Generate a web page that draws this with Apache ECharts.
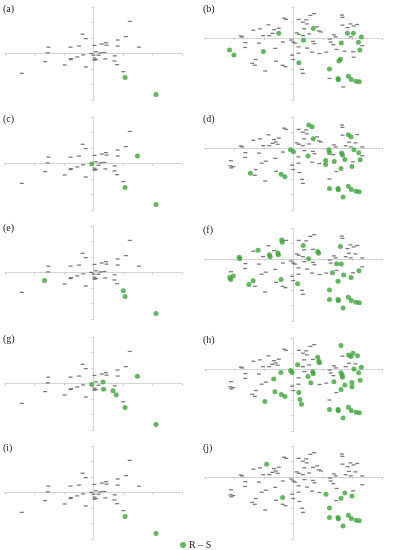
<!DOCTYPE html>
<html>
<head>
<meta charset="utf-8">
<script src="https://cdn.jsdelivr.net/npm/echarts@6/dist/echarts.min.js"></script>
<style>
html, body { margin: 0; padding: 0; background: #fff; }
#box { width: 394px; height: 550px; }
</style>
</head>
<body>
<div id="box"></div>
<script>
// grey marks shared by the left column (a, c, e, g, i)
var leftBase = [
    [1.23, 2.07], [-0.37, 1.24], [-0.26, 0.96], [1.10, 1.09], [0.82, 0.87], [-1.53, 0.41], [-0.78, 0.41],
    [-0.49, 0.48], [0.03, 0.52], [0.28, 0.61], [0.42, 0.70], [0.44, 0.54], [0.82, 0.48], [1.54, 0.41],
    [-1.55, 0.04], [0.08, 0.11], [-0.08, 0], [0.24, 0.04], [0.37, 0.07], [-0.35, -0.09], [0, -0.11],
    [0.17, -0.11], [-0.55, -0.22], [-0.76, -0.33], [-0.78, -0.39], [0.03, -0.30], [0.08, -0.39],
    [0.03, -0.43], [0.40, -0.35], [0.72, -0.15], [0.71, -0.48], [-1.64, -0.52], [-0.98, -0.74],
    [0.80, -0.72], [-0.26, -0.87], [1.01, -1.17], [-2.43, -1.28]
];

// grey marks shared by the right column (b, d, f, h, j)
var rightBase = [
    [0.70, 1.57], [0.57, 1.46], [1.64, 1.48], [1.66, 1.33], [-0.32, 1.28], [-0.25, 1.20], [0.18, 1.20],
    [0.43, 1.17], [0.32, 1.02], [0.45, 0.91], [-0.85, 0.85], [1.66, 0.83], [1.93, 0.91], [2.04, 0.78],
    [2.16, 0.87], [-1.14, 0.59], [-1.36, 0.50], [-0.50, 0.63], [-0.66, 0.54], [-1.79, 0.13], [-1.74, 0.07],
    [-0.71, 0.30], [-0.60, 0.39], [-0.54, 0.24], [0.36, 0.59], [0.86, 0.46], [0.93, 0.39], [0.80, 0.72],
    [0.66, 0.62], [1.83, 0.67], [1.88, 0.37], [2.10, 0.33], [0.11, 0.33], [0.18, 0.24], [-0.82, 0.15],
    [-1.03, 0.15], [0.53, 0.26], [0.32, 0.15], [1.37, 0.20], [1.43, 0.07], [1.77, 0.15], [1.94, 0.07],
    [2.33, 0.07], [-1.63, -0.30], [-1.17, -0.33], [-0.36, -0.26], [-0.08, -0.13], [-0.01, -0.26],
    [0.05, -0.33], [0.37, -0.17], [0.66, -0.22], [0.71, -0.37], [1.23, -0.07], [1.26, -0.26],
    [1.35, -0.43], [-1.64, -0.61], [-0.62, -0.67], [0.17, -0.57], [0.46, -0.65], [1.46, -0.74],
    [1.73, -0.85], [2.33, -0.50], [2.02, -0.89], [-2.12, -0.82], [-2.14, -1.15], [-2.11, -1.28],
    [-2.04, -1.20], [-1.08, -0.98], [-0.94, -0.85], [-0.05, -1.11], [0.17, -0.98], [0.63, -0.91],
    [0.88, -1.00], [1.11, -0.91], [2.04, -1.24], [-1.28, -1.39], [-1.40, -1.63], [-1.31, -1.76],
    [-0.59, -1.50], [-0.37, -1.76], [-0.27, -1.85], [-0.01, -1.39], [0.20, -1.58], [1.45, -1.52],
    [0.29, -2.02], [0.32, -2.28], [-0.96, -2.13], [1.22, -2.00], [1.22, -2.61], [1.68, -3.16]
];

// green points (R - S) for each panel
var greenA = [[1.07, -1.55], [2.12, -2.65]];
var greenC = [[1.49, 0.48], [-0.06, -0.04], [1.07, -1.55], [2.12, -2.65]];
var greenE = [[-1.66, -0.52], [1.01, -1.17], [1.07, -1.55], [2.12, -2.65]];
var greenG = [[-0.06, -0.06], [0.32, 0.09], [0.34, -0.37], [0.66, -0.46], [0.77, -0.72], [1.49, 0.46],
    [1.07, -1.55], [2.12, -2.65]];
var greenI = [[1.07, -1.55], [2.12, -2.65]];

var greenB = [[-2.17, -0.78], [-2.02, -1.09], [-1.02, -0.87], [-0.50, 0.30], [0.67, 0.61], [0.34, -0.15],
    [0.18, -1.59], [1.83, 0.30], [2.03, 0.30], [2.30, 0.07], [2.20, -0.28], [2.25, -0.78], [1.62, -0.33],
    [1.59, -1.37], [1.54, -1.48], [1.22, -2.00], [1.51, -2.61], [1.52, -2.70], [1.86, -2.47],
    [1.96, -2.67], [2.12, -2.79], [2.23, -2.83]];
var greenD = [[0.52, 1.48], [0.63, 1.37], [0.67, 0.59], [1.86, 0.85], [1.95, 0.72], [2.05, -0.11],
    [2.21, -0.30], [2.26, -0.76], [1.20, -0.11], [1.22, -0.30], [1.63, -0.33], [1.66, -0.45],
    [-0.10, -0.11], [0.00, -0.24], [0.49, -0.52], [1.09, -0.80], [1.09, -1.07], [1.38, -0.87],
    [1.74, -0.74], [1.61, -1.33], [1.98, -1.20], [-1.46, -1.63], [-0.42, -1.70], [-0.29, -1.85],
    [1.22, -2.61], [1.51, -2.61], [1.52, -2.70], [1.86, -2.47], [1.96, -2.67], [2.12, -2.79],
    [2.23, -2.83], [1.68, -3.16]];
var greenF = [[-1.84, 0.12], [-1.82, 0.02], [-1.20, 0.57], [-0.82, 0.28], [-0.79, 0.15], [-0.53, 0.39],
    [-0.51, 0.28], [-0.40, 1.22], [-0.38, 1.08], [0.33, 0.87], [0.82, 0.48], [0.85, 0.37], [0.51, 0.02],
    [1.59, 0.80], [1.46, -0.30], [1.62, -0.33], [1.32, -0.89], [1.70, -1.04], [1.51, -1.43],
    [2.22, -0.76], [1.95, -1.20], [-2.16, -1.20], [-2.13, -1.33], [-2.04, -1.09], [-1.51, -1.65],
    [-1.37, -1.41], [-0.42, -1.33], [0.14, -1.59], [1.22, -2.00], [1.22, -2.61], [1.51, -2.61],
    [1.52, -2.70], [1.86, -2.47], [1.96, -2.67], [2.12, -2.79], [2.23, -2.83], [1.68, -3.16]];
var greenH = [[1.61, 1.52], [1.87, 0.91], [1.95, 0.80], [2.02, 1.02], [2.17, 0.85], [0.82, 0.76],
    [0.86, 0.50], [0.88, 0.40], [0.14, 0.28], [0.65, -0.17], [0.67, -0.30], [0.49, -0.48], [0.59, -0.89],
    [-0.10, -0.09], [-0.05, -0.22], [-0.43, -0.22], [-0.67, -0.65], [-0.63, -1.46], [-0.41, -1.65],
    [-0.29, -1.78], [-0.97, -2.09], [0.18, -1.52], [0.22, -1.96], [0.27, -2.28], [1.37, -0.83],
    [1.61, -0.24], [1.65, -0.39], [1.66, -0.54], [2.05, 0.00], [2.30, 0.11], [2.21, -0.24],
    [2.26, -0.72], [1.98, -0.87], [1.98, -1.15], [1.74, -1.04], [1.61, -1.33], [1.22, -2.61],
    [1.51, -2.61], [1.52, -2.70], [1.86, -2.47], [1.96, -2.67], [2.12, -2.79], [2.23, -2.83],
    [1.68, -3.16]];
var greenJ = [[-0.91, 0.83], [-0.37, -1.33], [1.10, -1.11], [1.61, -1.37], [1.74, -1.04], [1.98, -1.22],
    [1.22, -2.00], [1.22, -2.61], [1.51, -2.61], [1.52, -2.70], [1.86, -2.47], [1.96, -2.67],
    [2.12, -2.79], [2.23, -2.83], [1.68, -3.16]];

var legendName = 'R \u2013 S';

var panels = [
    { label: '(a)', left: 5, top: 7, right: false, green: greenA },
    { label: '(b)', left: 205, top: 7, right: true, green: greenB },
    { label: '(c)', left: 5, top: 117, right: false, green: greenC },
    { label: '(d)', left: 205, top: 117, right: true, green: greenD },
    { label: '(e)', left: 5, top: 226, right: false, green: greenE },
    { label: '(f)', left: 205, top: 228, right: true, green: greenF },
    { label: '(g)', left: 5, top: 337, right: false, green: greenG },
    { label: '(h)', left: 205, top: 338, right: true, green: greenH },
    { label: '(i)', left: 5, top: 446, right: false, green: greenI },
    { label: '(j)', left: 205, top: 446, right: true, green: greenJ }
];

var W = 177, H = 93;

// hide the grey dash where a green point sits on it
function greyFor(base, green) {
    return base.filter(function (p) {
        for (var k = 0; k < green.length; k++) {
            var dx = (p[0] - green[k][0]) * W / 6;
            var dy = (p[1] - green[k][1]) * H / 6;
            if (dx * dx + dy * dy < 16) return false;
        }
        return true;
    });
}

var grids = [], xAxes = [], yAxes = [], series = [], texts = [];
var axisLine = { onZero: true, lineStyle: { color: '#d4d4d4', width: 1 } };
var axisTick = { show: true, length: 2, lineStyle: { color: '#c8c8c8' } };

for (var i = 0; i < panels.length; i++) {
    var p = panels[i];
    grids.push({ left: p.left, top: p.top, width: W, height: H });
    xAxes.push({
        gridIndex: i, type: 'value', min: -3, max: 3, interval: 1,
        axisLine: axisLine, axisTick: axisTick, axisLabel: { show: false }, splitLine: { show: false }
    });
    yAxes.push({
        gridIndex: i, type: 'value', min: p.right ? -4 : -3, max: p.right ? 2 : 3, interval: 1,
        axisLine: axisLine, axisTick: axisTick, axisLabel: { show: false }, splitLine: { show: false }
    });
    series.push({
        type: 'scatter', xAxisIndex: i, yAxisIndex: i, silent: true,
        symbol: 'rect', symbolSize: [4, 1.3],
        itemStyle: { color: '#5a5a5a' },
        data: greyFor(p.right ? rightBase : leftBase, p.green)
    });
    series.push({
        name: legendName, type: 'scatter', xAxisIndex: i, yAxisIndex: i, silent: true,
        symbol: 'circle', symbolSize: 5,
        itemStyle: { color: '#3fa33c' },
        data: p.green
    });
    texts.push({
        type: 'text', left: p.left - 2, top: p.top - 3,
        style: { text: p.label, fontFamily: 'Liberation Serif', fontSize: 10, fill: '#222' }
    });
}

var myChart = echarts.init(document.getElementById('box'), null, { renderer: 'canvas' });
myChart.setOption({
    animation: false,
    backgroundColor: '#fff',
    grid: grids,
    xAxis: xAxes,
    yAxis: yAxes,
    legend: {
        data: [legendName], left: 175, top: 535,
        icon: 'circle', itemWidth: 6, itemHeight: 6,
        textStyle: { fontFamily: 'Liberation Serif', fontSize: 10, color: '#222', padding: [0, 0, 0, -2] }
    },
    graphic: texts,
    series: series
});
</script>
</body>
</html>
